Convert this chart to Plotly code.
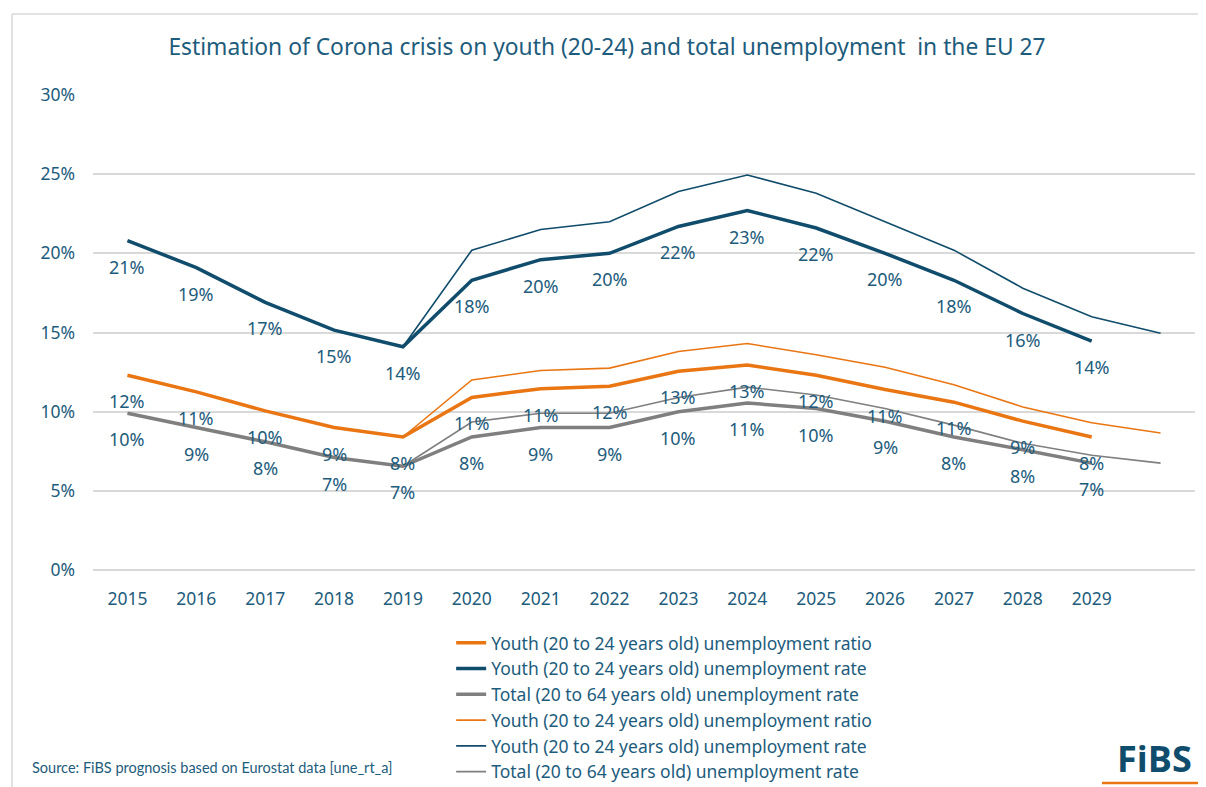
import plotly.graph_objects as go

# years on the category axis; 2030 carries no label but the thin lines reach it
years = list(range(2015, 2031))
tick_years = list(range(2015, 2030))

# thick series (with data labels), 2015-2029
youth_ratio = [12.3, 11.25, 10.05, 9.0, 8.4, 10.9, 11.45, 11.6, 12.55, 12.95, 12.3, 11.4, 10.6, 9.4, 8.4]
youth_rate = [20.8, 19.1, 16.9, 15.15, 14.1, 18.3, 19.6, 20.0, 21.7, 22.7, 21.6, 20.0, 18.3, 16.2, 14.45]
total_rate = [9.9, 9.0, 8.1, 7.1, 6.55, 8.4, 9.0, 9.0, 10.0, 10.55, 10.2, 9.4, 8.4, 7.6, 6.75]

# thin series, 2019-2030
alt_years = list(range(2019, 2031))
youth_ratio_alt = [8.4, 12.0, 12.6, 12.75, 13.8, 14.3, 13.6, 12.8, 11.7, 10.3, 9.3, 8.65]
youth_rate_alt = [14.1, 20.2, 21.5, 22.0, 23.9, 24.95, 23.8, 22.0, 20.2, 17.8, 16.0, 14.95]
total_rate_alt = [6.55, 9.35, 9.9, 9.9, 10.9, 11.55, 11.05, 10.2, 9.15, 8.0, 7.25, 6.75]

names = ["Youth (20 to 24 years old) unemployment ratio",
         "Youth (20 to 24 years old) unemployment rate",
         "Total (20 to 64 years old) unemployment rate"]

ORANGE = "#ea7613"
BLUE = "#104c6b"
GREY = "#7f7f7f"
TEXT = "#1d5c7c"
FONT = "Noto Sans"

fig = go.Figure()

thick = [(youth_ratio, ORANGE), (youth_rate, BLUE), (total_rate, GREY)]
thin = [(youth_ratio_alt, ORANGE), (youth_rate_alt, BLUE), (total_rate_alt, GREY)]

for (vals, col), name in zip(thick, names):
    fig.add_trace(go.Scatter(x=tick_years, y=vals, mode="lines", name=name,
                             line=dict(color=col, width=3.5)))
for (vals, col), name in zip(thin, names):
    fig.add_trace(go.Scatter(x=alt_years, y=vals, mode="lines", name=name,
                             line=dict(color=col, width=1.6)))

# data labels under the thick lines
for vals, _ in thick:
    for yr, v in zip(tick_years, vals):
        fig.add_annotation(x=yr, y=v, text=f"{int(v + 0.5)}%", showarrow=False,
                           yshift=-26, font=dict(family=FONT, size=18, color=TEXT))

fig.add_annotation(xref="paper", yref="paper", x=-0.0572, y=-0.4168,
                   xanchor="left", yanchor="middle", showarrow=False,
                   text="Source: FiBS prognosis based on Eurostat data [une_rt_a]",
                   font=dict(family="Lato", size=14.5, color=TEXT))
fig.add_annotation(xref="paper", yref="paper", x=0.9995, y=-0.397,
                   xanchor="right", yanchor="middle", showarrow=False,
                   text="<b>FiBS</b>", font=dict(family="Open Sans", size=36, color=BLUE))

# frame and logo underline
fig.add_shape(type="line", xref="paper", yref="paper", x0=-0.0735, x1=1.02, y0=1.1705, y1=1.1705,
              line=dict(color="#d9d9d9", width=1.5))
fig.add_shape(type="line", xref="paper", yref="paper", x0=-0.0735, x1=-0.0735, y0=1.1705, y1=-0.5,
              line=dict(color="#d9d9d9", width=1.5))
fig.add_shape(type="line", xref="paper", yref="paper", x0=0.9156, x1=1.0073, y0=-0.4484, y1=-0.4484,
              line=dict(color=ORANGE, width=2.5))

fig.update_layout(
    width=1198, height=779,
    margin=dict(l=85, r=11, t=87, b=217),
    paper_bgcolor="white", plot_bgcolor="white",
    title=dict(text="Estimation of Corona crisis on youth (20-24) and total unemployment  in the EU 27",
               x=0.5, xanchor="center", y=0.95, yanchor="middle",
               font=dict(family=FONT, size=22.8, color=TEXT)),
    font=dict(family=FONT, size=16, color=TEXT),
    showlegend=True,
    legend=dict(x=0.325, y=0.208, xref="paper", yref="container", xanchor="left", yanchor="top",
                font=dict(family=FONT, size=17.5, color=TEXT),
                bgcolor="rgba(0,0,0,0)", tracegroupgap=0),
    xaxis=dict(range=[2014.5, 2030.5], tickvals=tick_years, ticktext=[str(y) for y in tick_years],
               showgrid=False, zeroline=False, showline=False, ticks="",
               tickfont=dict(family=FONT, size=17.5, color=TEXT), ticklabelstandoff=16),
    yaxis=dict(range=[0, 30], dtick=5, ticksuffix="%", showgrid=True, gridcolor="#d9d9d9",
               gridwidth=1.5, zeroline=True, zerolinecolor="#d9d9d9", zerolinewidth=1.5,
               showline=False, ticks="", tickfont=dict(family=FONT, size=17.5, color=TEXT),
               ticklabelstandoff=17),
)

fig.write_html("out.html")
